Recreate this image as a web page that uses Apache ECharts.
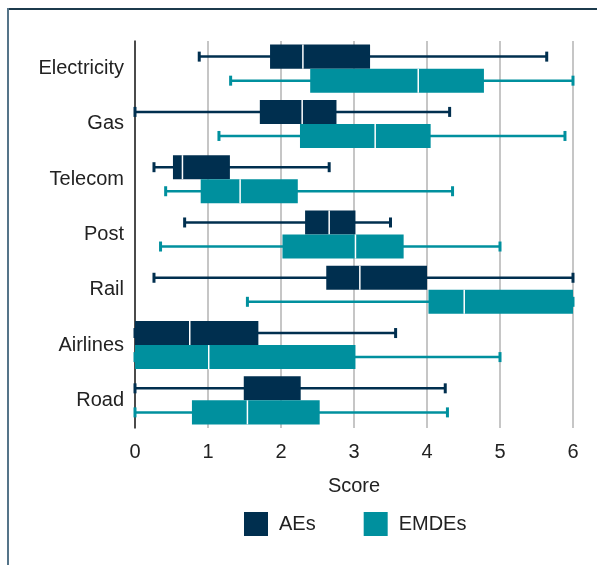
<!DOCTYPE html>
<html>
<head>
<meta charset="utf-8">
<style>
  html, body { margin: 0; padding: 0; background: #fff; }
  #chart { width: 597px; height: 565px; }
</style>
<script src="https://cdn.jsdelivr.net/npm/echarts@6/dist/echarts.min.js"></script>
</head>
<body>
<div id="chart"></div>
<script>
// Sectors, listed top to bottom
const categories = ['Electricity', 'Gas', 'Telecom', 'Post', 'Rail', 'Airlines', 'Road'];

// Score distributions per sector: [min, Q1, median, Q3, max]
const aeStats = [
  [0.88, 1.85, 2.30, 3.22, 5.64],
  [0.00, 1.71, 2.29, 2.76, 4.31],
  [0.26, 0.52, 0.65, 1.30, 2.66],
  [0.68, 2.33, 2.66, 3.02, 3.50],
  [0.26, 2.62, 3.08, 4.00, 6.00],
  [0.00, 0.00, 0.75, 1.69, 3.57],
  [0.00, 1.49, 1.49, 2.27, 4.25]
];
const emdeStats = [
  [1.31, 2.40, 3.88, 4.78, 6.00],
  [1.15, 2.26, 3.29, 4.05, 5.89],
  [0.42, 0.90, 1.44, 2.23, 4.35],
  [0.35, 2.02, 3.02, 3.68, 5.00],
  [1.54, 4.02, 4.51, 6.00, 6.00],
  [0.00, 0.00, 1.01, 3.02, 5.00],
  [0.00, 0.78, 1.54, 2.53, 4.28]
];

const seriesNames = ['AEs', 'EMDEs'];
const xTicks = [0, 1, 2, 3, 4, 5, 6];

const NAVY = '#002f4f';
const TEAL = '#00909e';
const FONT = '"Liberation Sans", Arial, sans-serif';

function toRows(stats) {
  return stats.map((s, i) => [i].concat(s));
}

// Draws one horizontal box-and-whisker per category, offset above (-1) or below (+1) the band centre
function boxRenderer(side, color) {
  return function (params, api) {
    const cat = api.value(0);
    const band = api.size([0, 1])[1];
    const boxH = band * 0.435;
    const cy = api.coord([0, cat])[1] + side * boxH / 2;
    const px = (dim) => api.coord([api.value(dim), cat])[0];
    const xMin = px(1), xQ1 = px(2), xMed = px(3), xQ3 = px(4), xMax = px(5);
    const capH = 10, capW = 3;
    const children = [
      {
        type: 'line',
        shape: { x1: xMin, y1: cy, x2: xMax, y2: cy },
        style: { stroke: color, lineWidth: 2.5 }
      },
      {
        type: 'rect',
        shape: { x: xMin - capW / 2, y: cy - capH / 2, width: capW, height: capH },
        style: { fill: color }
      },
      {
        type: 'rect',
        shape: { x: xMax - capW / 2, y: cy - capH / 2, width: capW, height: capH },
        style: { fill: color }
      },
      {
        type: 'rect',
        shape: { x: xQ1, y: cy - boxH / 2, width: xQ3 - xQ1, height: boxH },
        style: { fill: color }
      }
    ];
    if (xMed > xQ1 + 1 && xMed < xQ3 - 1) {
      children.push({
        type: 'line',
        shape: { x1: xMed, y1: cy - boxH / 2, x2: xMed, y2: cy + boxH / 2 },
        style: { stroke: '#ffffff', lineWidth: 1.5 }
      });
    }
    return { type: 'group', children: children };
  };
}

const chart = echarts.init(document.getElementById('chart'), null, { renderer: 'canvas' });

chart.setOption({
  backgroundColor: '#ffffff',
  animation: false,
  textStyle: { fontFamily: FONT },
  graphic: [
    { type: 'rect', shape: { x: 7, y: 8, width: 590, height: 2 }, style: { fill: '#1c3a4c' }, z: 10 },
    { type: 'rect', shape: { x: 7, y: 8, width: 2, height: 557 }, style: { fill: '#557489' }, z: 10 }
  ],
  grid: { left: 135, right: 24, top: 41, bottom: 137, containLabel: false },
  xAxis: {
    type: 'value',
    min: xTicks[0],
    max: xTicks[xTicks.length - 1],
    interval: 1,
    name: 'Score',
    nameLocation: 'middle',
    nameGap: 48,
    nameTextStyle: { fontSize: 20, color: '#222', fontFamily: FONT },
    axisLine: { show: false },
    axisTick: { show: false },
    axisLabel: { fontSize: 20, color: '#222', margin: 14, fontFamily: FONT },
    splitLine: { show: true, lineStyle: { color: '#b3b3b3', width: 1.5 } }
  },
  yAxis: {
    type: 'category',
    data: categories,
    inverse: true,
    axisLine: { show: true, lineStyle: { color: '#222', width: 1.5 } },
    axisTick: { show: false },
    axisLabel: { fontSize: 20, color: '#222', margin: 11, fontFamily: FONT },
    splitLine: { show: false }
  },
  legend: {
    data: seriesNames,
    left: 239,
    top: 507,
    icon: 'rect',
    itemWidth: 24,
    itemHeight: 24,
    itemGap: 48,
    textStyle: { fontSize: 20, color: '#222', fontFamily: FONT, padding: [0, 0, 0, 6] }
  },
  series: [
    {
      name: seriesNames[0],
      type: 'custom',
      renderItem: boxRenderer(-1, NAVY),
      itemStyle: { color: NAVY },
      encode: { y: 0, x: [1, 2, 3, 4, 5] },
      data: toRows(aeStats),
      z: 3
    },
    {
      name: seriesNames[1],
      type: 'custom',
      renderItem: boxRenderer(1, TEAL),
      itemStyle: { color: TEAL },
      encode: { y: 0, x: [1, 2, 3, 4, 5] },
      data: toRows(emdeStats),
      z: 3
    }
  ]
});
</script>
</body>
</html>
